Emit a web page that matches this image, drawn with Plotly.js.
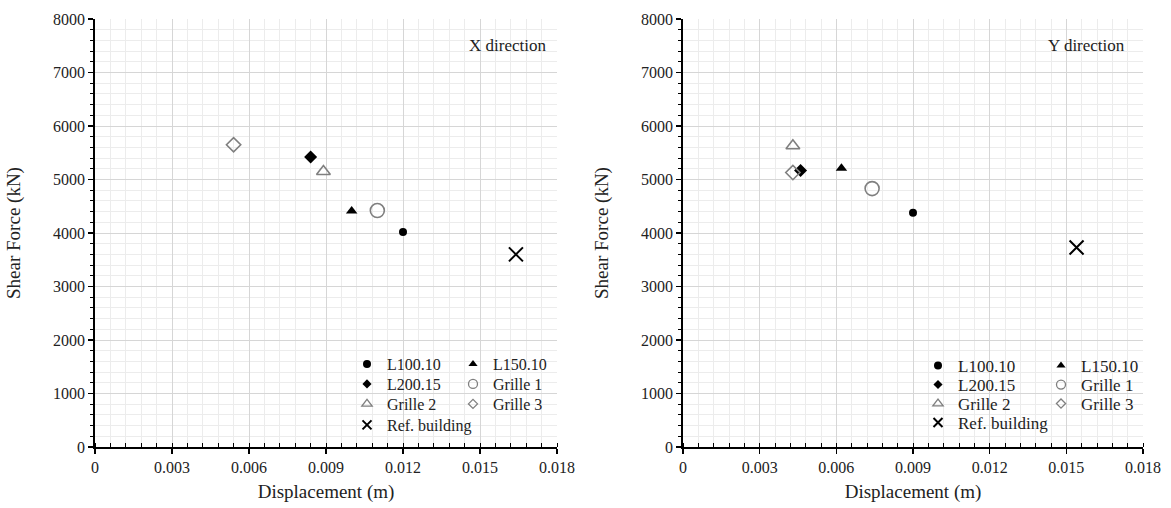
<!DOCTYPE html>
<html>
<head>
<meta charset="utf-8">
<script src="https://cdn.plot.ly/plotly-3.0.1.min.js"></script>
<style>html,body{margin:0;padding:0;background:#fff;}#chart{width:1171px;height:508px;}</style>
</head>
<body>
<div id="chart"></div>
<script>
// ---- data ----
const seriesNames = ["L100.10", "L150.10", "L200.15", "Grille 1", "Grille 2", "Grille 3", "Ref. building"];
const xDirDisplacement = [0.0120, 0.0100, 0.0084, 0.0110, 0.0089, 0.0054, 0.0164];
const xDirShearForce   = [4020, 4410, 5420, 4420, 5150, 5650, 3600];
const yDirDisplacement = [0.0090, 0.0062, 0.0046, 0.0074, 0.0043, 0.0043, 0.0154];
const yDirShearForce   = [4380, 5210, 5170, 4830, 5630, 5130, 3730];
const panelLabels = ["X direction", "Y direction"];
const xTitle = "Displacement (m)";
const yTitle = "Shear Force (kN)";

// ---- styles ----
const GRAY = "#7f7f7f";
const markerStyles = [
  {symbol: "circle", size: 8, color: "#000"},
  {symbol: "triangle-up", size: 10, color: "#000"},
  {symbol: "diamond", size: 10, color: "#000"},
  {symbol: "circle-open", size: 14, color: GRAY, line: {color: GRAY, width: 1.6}},
  {symbol: "triangle-up-open", size: 12, color: GRAY, line: {color: GRAY, width: 1.6}},
  {symbol: "diamond-open", size: 11, color: GRAY, line: {color: GRAY, width: 1.6}},
  {symbol: "x-thin", size: 14, color: "#000", line: {color: "#000", width: 2}}
];
const legendMarkerStyles = [
  {symbol: "circle", size: 8, color: "#000"},
  {symbol: "triangle-up", size: 8, color: "#000"},
  {symbol: "diamond", size: 7, color: "#000"},
  {symbol: "circle-open", size: 9, color: GRAY, line: {color: GRAY, width: 1.3}},
  {symbol: "triangle-up-open", size: 9, color: GRAY, line: {color: GRAY, width: 1.3}},
  {symbol: "diamond-open", size: 7, color: GRAY, line: {color: GRAY, width: 1.3}},
  {symbol: "x-thin", size: 9, color: "#000", line: {color: "#000", width: 2}}
];
// legend grid cell (column, row) of each series
const legendCol = [0, 1, 0, 1, 0, 1, 0];
const legendRow = [0, 0, 1, 1, 2, 2, 3];

const FONT = "'Liberation Serif', 'Times New Roman', serif";
const W = 1171, H = 508;

const traces = [];
const legends = {};
let legendCount = 0;
function legendAt(xPx, yTopPx, fontSize) {
  return {
    x: xPx / W, y: 1 - yTopPx / H, xanchor: "left", yanchor: "top",
    bgcolor: "rgba(0,0,0,0)", borderwidth: 0, itemwidth: 30,
    font: {family: FONT, size: fontSize, color: "#222"}, tracegroupgap: 0
  };
}
function addPanel(xs, ys, xa, ya, colX, rowY, fontSize) {
  seriesNames.forEach((name, i) => {
    traces.push({
      type: "scatter", mode: "markers", name: name,
      x: [xs[i]], y: [ys[i]], xaxis: xa, yaxis: ya,
      marker: markerStyles[i], showlegend: false
    });
  });
  seriesNames.forEach((name, i) => {
    legendCount++;
    const key = legendCount === 1 ? "legend" : "legend" + legendCount;
    legends[key] = legendAt(colX[legendCol[i]], rowY[legendRow[i]] - 18, fontSize);
    traces.push({
      type: "scatter", mode: "markers", name: name,
      x: [null], y: [null], xaxis: xa, yaxis: ya,
      marker: legendMarkerStyles[i], showlegend: true, legend: key
    });
  });
}
addPanel(xDirDisplacement, xDirShearForce, "x", "y", [347, 453], [365, 385, 405, 426], 16);
addPanel(yDirDisplacement, yDirShearForce, "x2", "y2", [918, 1041], [366, 385, 404, 423], 17);

function xAxis(domain, anchor) {
  return {
    domain: domain, anchor: anchor, range: [0, 0.018], dtick: 0.003, tick0: 0,
    showgrid: true, gridcolor: "#d6d6d6", gridwidth: 1, zeroline: false,
    showline: true, linecolor: "#000", linewidth: 1.8,
    ticks: "outside", ticklen: 5, tickcolor: "#000", tickwidth: 1.3,
    minor: {dtick: 0.0006, showgrid: true, gridcolor: "#ececec", gridwidth: 1,
            ticks: "inside", ticklen: 4, tickcolor: "#000", tickwidth: 1},
    tickfont: {family: FONT, size: 16, color: "#222"},
    title: {text: xTitle, font: {family: FONT, size: 19, color: "#222"}, standoff: 10},
    automargin: false, fixedrange: true
  };
}
function yAxis(anchor) {
  return {
    domain: [1 - 447 / H, 1 - 19 / H], anchor: anchor, range: [0, 8000], dtick: 1000, tick0: 0,
    showgrid: true, gridcolor: "#d6d6d6", gridwidth: 1, zeroline: false,
    showline: true, linecolor: "#000", linewidth: 1.8,
    ticks: "outside", ticklen: 5, tickcolor: "#000", tickwidth: 1.3,
    minor: {dtick: 200, showgrid: true, gridcolor: "#ececec", gridwidth: 1,
            ticks: "outside", ticklen: 3, tickcolor: "#000", tickwidth: 1},
    tickfont: {family: FONT, size: 16, color: "#222"},
    title: {text: yTitle, font: {family: FONT, size: 19, color: "#222"}, standoff: 27},
    automargin: false, fixedrange: true
  };
}

const layout = Object.assign({
  width: W, height: H,
  margin: {l: 0, r: 0, t: 0, b: 0},
  paper_bgcolor: "#fff", plot_bgcolor: "#fff",
  font: {family: FONT, color: "#222"},
  showlegend: true,
  xaxis: xAxis([95 / W, 557 / W], "y"),
  yaxis: yAxis("x"),
  xaxis2: xAxis([683 / W, 1143 / W], "y2"),
  yaxis2: yAxis("x2"),
  annotations: [
    {xref: "x", yref: "y", x: 0.01765, y: 7500, xanchor: "right", yanchor: "middle",
     text: panelLabels[0], showarrow: false, font: {family: FONT, size: 17, color: "#222"}},
    {xref: "x2", yref: "y2", x: 0.01737, y: 7500, xanchor: "right", yanchor: "middle",
     text: panelLabels[1], showarrow: false, font: {family: FONT, size: 17, color: "#222"}}
  ]
}, legends);

Plotly.newPlot("chart", traces, layout, {displayModeBar: false, staticPlot: true});
</script>
</body>
</html>
